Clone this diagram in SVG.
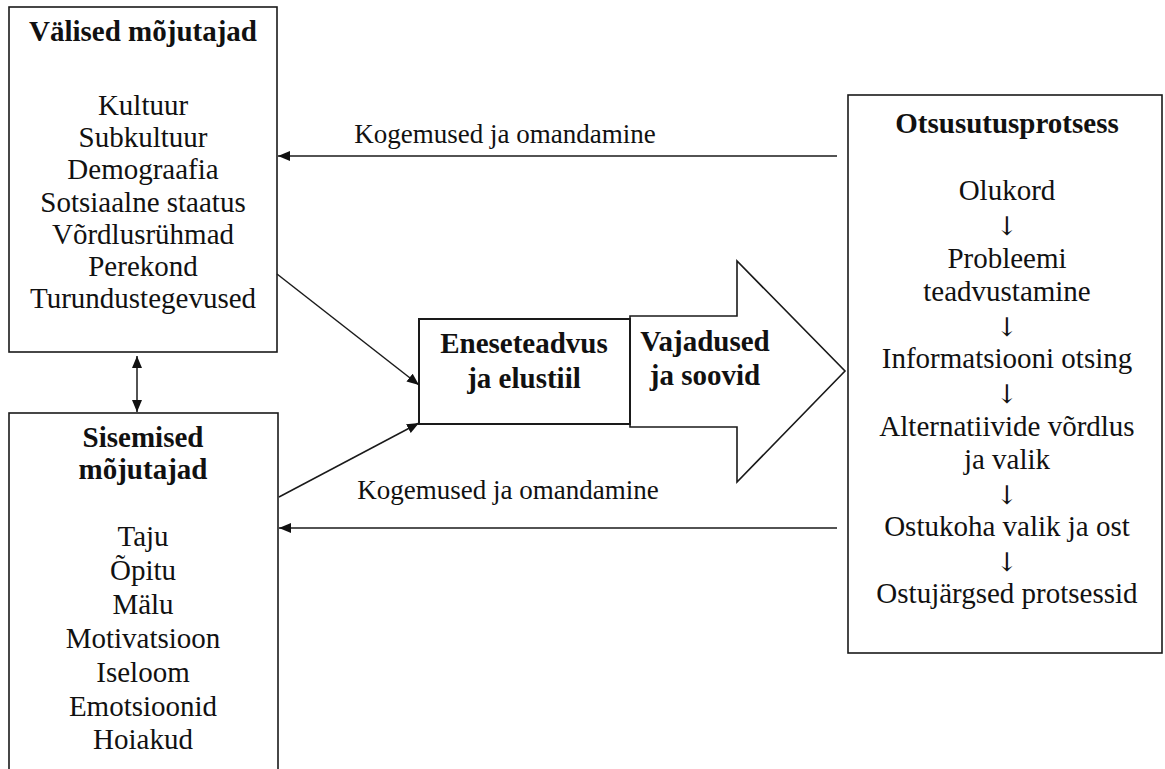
<svg xmlns="http://www.w3.org/2000/svg" width="1165" height="769" viewBox="0 0 1165 769">
<defs>
<style>
.box{fill:#fff;stroke:#1a1a1a;stroke-width:1.6}
.ln{fill:none;stroke:#1a1a1a;stroke-width:1.5}
text{font-family:"Liberation Serif","Times New Roman",serif;fill:#111;text-anchor:middle}
.t{font-size:29px}
.b{font-size:29px;font-weight:bold}
.k{font-size:27px}
.ar{font-family:"DejaVu Serif","Liberation Serif",serif;font-size:26px;fill:#111}
</style>
<marker id="ah" viewBox="0 0 12 10" refX="12" refY="5" markerWidth="12" markerHeight="10" markerUnits="userSpaceOnUse" orient="auto-start-reverse">
<path d="M0,0 L12,5 L0,10 z" fill="#111"/>
</marker>
</defs>
<rect width="1165" height="769" fill="#fff"/>

<g id="valised">
<rect class="box" x="9" y="7" width="268" height="345"/>
<text class="b" x="143" y="41">Välised mõjutajad</text>
<text class="t" x="143" y="115">Kultuur</text>
<text class="t" x="143" y="147">Subkultuur</text>
<text class="t" x="143" y="179">Demograafia</text>
<text class="t" x="143" y="212">Sotsiaalne staatus</text>
<text class="t" x="143" y="244">Võrdlusrühmad</text>
<text class="t" x="143" y="276">Perekond</text>
<text class="t" x="143" y="308">Turundustegevused</text>
</g>

<g id="sisemised">
<rect class="box" x="9" y="413" width="269" height="380"/>
<text class="b" x="143" y="447">Sisemised</text>
<text class="b" x="143" y="479">mõjutajad</text>
<text class="t" x="143" y="546">Taju</text>
<text class="t" x="143" y="580">Õpitu</text>
<text class="t" x="143" y="614">Mälu</text>
<text class="t" x="143" y="648">Motivatsioon</text>
<text class="t" x="143" y="682">Iseloom</text>
<text class="t" x="143" y="716">Emotsioonid</text>
<text class="t" x="143" y="749">Hoiakud</text>
</g>

<g id="vajadused">
<polygon class="box" points="630,316 737,316 737,261 845,371 737,482 737,427 630,427"/>
<text class="b" x="705" y="351">Vajadused</text>
<text class="b" x="705" y="385">ja soovid</text>
</g>

<g id="eneseteadvus">
<rect class="box" x="419" y="319" width="211" height="105" style="stroke-width:2"/>
<text class="b" x="524" y="353">Eneseteadvus</text>
<text class="b" x="524" y="388">ja elustiil</text>
</g>

<g id="otsustusprotsess">
<rect class="box" x="848" y="95" width="314" height="558"/>
<text class="b" x="1007" y="133">Otsusutusprotsess</text>
<text class="t" x="1007" y="200">Olukord</text>
<text class="ar" x="1007" y="235">↓</text>
<text class="t" x="1007" y="268">Probleemi</text>
<text class="t" x="1007" y="301">teadvustamine</text>
<text class="ar" x="1007" y="336">↓</text>
<text class="t" x="1007" y="368">Informatsiooni otsing</text>
<text class="ar" x="1007" y="403">↓</text>
<text class="t" x="1007" y="436">Alternatiivide võrdlus</text>
<text class="t" x="1007" y="469">ja valik</text>
<text class="ar" x="1007" y="504">↓</text>
<text class="t" x="1007" y="536">Ostukoha valik ja ost</text>
<text class="ar" x="1007" y="571">↓</text>
<text class="t" x="1007" y="603">Ostujärgsed protsessid</text>
</g>

<g id="connectors">
<line class="ln" x1="837" y1="156" x2="278" y2="156" marker-end="url(#ah)"/>
<text class="k" x="505" y="143">Kogemused ja omandamine</text>
<line class="ln" x1="837" y1="528" x2="279" y2="528" marker-end="url(#ah)"/>
<text class="k" x="508" y="499">Kogemused ja omandamine</text>
<line class="ln" x1="137" y1="356" x2="137" y2="412" marker-start="url(#ah)" marker-end="url(#ah)"/>
<line class="ln" x1="277" y1="274" x2="419" y2="385" marker-end="url(#ah)"/>
<line class="ln" x1="279" y1="497" x2="419" y2="423" marker-end="url(#ah)"/>
</g>
</svg>
